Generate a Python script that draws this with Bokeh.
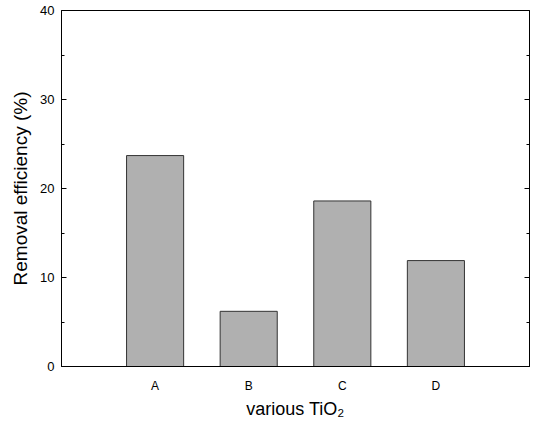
from bokeh.plotting import figure
from bokeh.models import FixedTicker, LinearAxis, Range1d, ColumnDataSource
from bokeh.embed import file_html
from bokeh.resources import INLINE

categories = ["A", "B", "C", "D"]
positions = [1, 2, 3, 4]
values = [23.7, 6.2, 18.6, 11.9]
y_ticks = [0, 10, 20, 30, 40]
y_minor = [5, 15, 25, 35]

src = ColumnDataSource(dict(x=positions, top=values, cat=categories))

p = figure(width=534, height=421, output_backend="svg", toolbar_location=None,
           x_range=Range1d(0, 5), y_range=Range1d(0, 40),
           min_border_left=61, min_border_right=5, min_border_top=10, min_border_bottom=54)
p.vbar(x="x", top="top", width=0.61, bottom=0, source=src,
       fill_color="#b0b0b0", line_color="#333333", line_width=1)

FONT = "Liberation Sans"
p.grid.visible = False
p.outline_line_color = "black"
p.outline_line_width = 1
p.background_fill_color = "white"
p.border_fill_color = "white"

ya = p.yaxis[0]
ya.ticker = FixedTicker(ticks=y_ticks, minor_ticks=y_minor)
ya.major_tick_in = 5
ya.major_tick_out = 0
ya.minor_tick_in = 3
ya.minor_tick_out = 0
ya.major_label_text_font = FONT
ya.major_label_text_font_size = "13px"
ya.major_label_text_color = "black"
ya.major_label_standoff = 7
ya.axis_label = "Removal efficiency (%)"
ya.axis_label_text_font = FONT
ya.axis_label_text_font_size = "19px"
ya.axis_label_text_font_style = "normal"
ya.axis_label_text_color = "black"
ya.axis_label_standoff = 6
ya.axis_line_color = "black"

xa = p.xaxis[0]
xa.ticker = FixedTicker(ticks=positions)
xa.major_label_overrides = {pos: c for pos, c in zip(positions, categories)}
xa.major_tick_in = 0
xa.major_tick_out = 0
xa.minor_tick_line_color = None
xa.major_label_text_font = FONT
xa.major_label_text_font_size = "12px"
xa.major_label_text_color = "black"
xa.major_label_standoff = 12
xa.axis_label = "various TiO\u2082"
xa.axis_label_text_font = FONT
xa.axis_label_text_font_size = "18px"
xa.axis_label_text_font_style = "normal"
xa.axis_label_text_color = "black"
xa.axis_label_standoff = 3

ra = LinearAxis(ticker=FixedTicker(ticks=y_ticks, minor_ticks=y_minor))
ra.major_label_text_font_size = "0px"
ra.major_label_text_color = None
ra.major_tick_in = 5
ra.major_tick_out = 0
ra.minor_tick_in = 3
ra.minor_tick_out = 0
p.add_layout(ra, "right")

open("out.html", "w").write(file_html(p, INLINE))
